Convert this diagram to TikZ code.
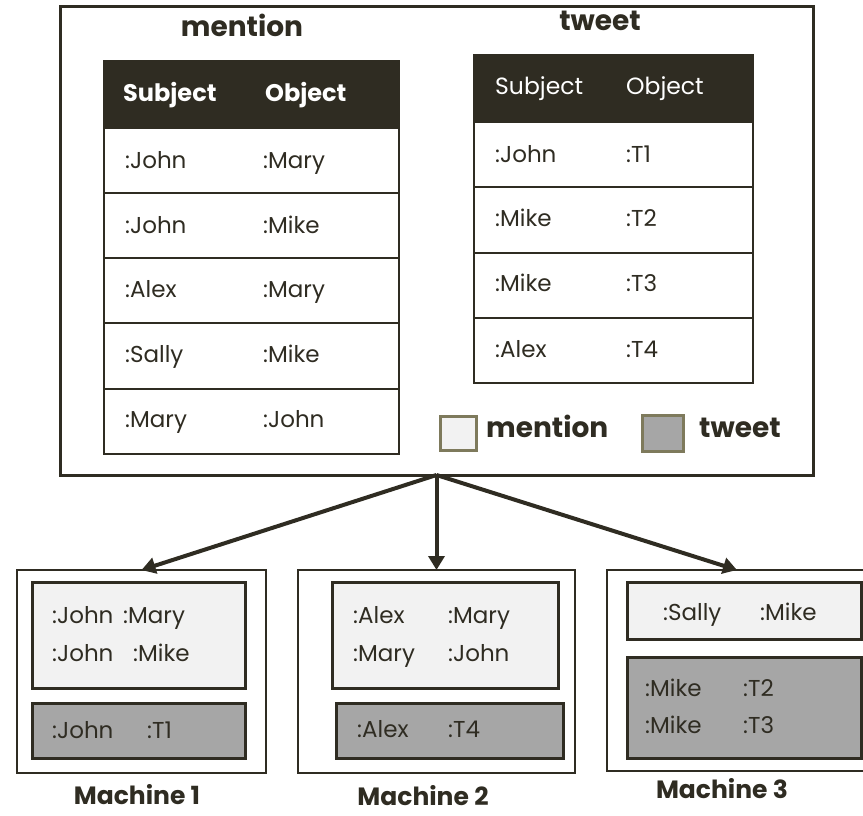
\documentclass[tikz,border=0pt]{standalone}
\usepackage{fontspec}
\setmainfont{Poppins}
\usetikzlibrary{arrows.meta}
\definecolor{ink}{HTML}{2F2C22}
\definecolor{olive}{HTML}{7E7A5C}
\definecolor{lightcell}{HTML}{F2F2F2}
\definecolor{darkcell}{HTML}{A6A6A6}
% rectangle node from two corners: name, style, x1, y1, x2, y2
\newcommand\boxnode[6]{%
  \node[#2, minimum width={#5pt-#3pt}, minimum height={#6pt-#4pt}] (#1) at ({(#3+#5)/2},{(#4+#6)/2}) {};}
\begin{document}
\begin{tikzpicture}[x=1pt, y=-1pt,
  box/.style={rectangle, draw=ink, inner sep=0pt, outer sep=0pt},
  frame/.style={box, line width=3pt, fill=white},
  machine/.style={box, line width=2.5pt, fill=white},
  cell/.style={box, line width=2pt, fill=white},
  headcell/.style={box, line width=2pt, fill=ink},
  part/.style={box, line width=3pt, fill=lightcell},
  tpart/.style={box, line width=3pt, fill=darkcell},
  legm/.style={rectangle, draw=olive, line width=3pt, fill=lightcell, inner sep=0pt},
  legt/.style={rectangle, draw=olive, line width=3pt, fill=darkcell, inner sep=0pt},
  txt/.style={anchor=base west, inner sep=0pt, text=ink, font=\fontsize{23}{27}\selectfont},
  headtxt/.style={anchor=base west, inner sep=0pt, text=white, font=\fontsize{23.5}{27}\selectfont},
  boldhead/.style={headtxt, font=\fontsize{24}{28}\selectfont\bfseries},
  title/.style={anchor=base, inner sep=0pt, text=ink, font=\fontsize{28}{32}\selectfont\bfseries},
  legtxt/.style={anchor=base west, inner sep=0pt, text=ink, font=\fontsize{28}{32}\selectfont\bfseries},
  mlabel/.style={anchor=base, inner sep=0pt, text=ink, font=\fontsize{25}{29}\selectfont\bfseries},
  flow/.style={draw=ink, line width=4pt, -{Triangle[length=14pt,width=16pt]}}
]
\useasboundingbox (0,0) rectangle (863,815);

% outer frame holding both tables
\boxnode{store}{frame}{60}{6}{813}{475}

% mention table
\node[title] (mtitle) at (242,36) {mention};
\boxnode{mh}{headcell}{104}{61}{399}{128}
\boxnode{mr1}{cell}{104}{128}{399}{193}
\boxnode{mr2}{cell}{104}{193}{399}{258}
\boxnode{mr3}{cell}{104}{258}{399}{323}
\boxnode{mr4}{cell}{104}{323}{399}{389}
\boxnode{mr5}{cell}{104}{389}{399}{454}
\node[boldhead] (mhs) at (123,101) {Subject};
\node[boldhead] (mho) at (265,101) {Object};
\node[txt] (ms1) at (125,168) {:John};  \node[txt] (mo1) at (263,168) {:Mary};
\node[txt] (ms2) at (125,233) {:John};  \node[txt] (mo2) at (263,233) {:Mike};
\node[txt] (ms3) at (125,297) {:Alex};  \node[txt] (mo3) at (263,297) {:Mary};
\node[txt] (ms4) at (125,362) {:Sally}; \node[txt] (mo4) at (263,362) {:Mike};
\node[txt] (ms5) at (125,427) {:Mary};  \node[txt] (mo5) at (263,427) {:John};

% tweet table
\node[title] (ttitle) at (600,30) {tweet};
\boxnode{th}{headcell}{474}{55}{753}{122}
\boxnode{tr1}{cell}{474}{122}{753}{187}
\boxnode{tr2}{cell}{474}{187}{753}{253}
\boxnode{tr3}{cell}{474}{253}{753}{318}
\boxnode{tr4}{cell}{474}{318}{753}{383}
\node[headtxt] (ths) at (495,94) {Subject};
\node[headtxt] (tho) at (626,94) {Object};
\node[txt] (ts1) at (495,162) {:John}; \node[txt] (to1) at (626,162) {:T1};
\node[txt] (ts2) at (495,226) {:Mike}; \node[txt] (to2) at (626,226) {:T2};
\node[txt] (ts3) at (495,291) {:Mike}; \node[txt] (to3) at (626,291) {:T3};
\node[txt] (ts4) at (495,357) {:Alex}; \node[txt] (to4) at (626,357) {:T4};

% legend
\boxnode{lm}{legm}{440}{416}{476}{450}
\node[legtxt] (lmt) at (486,437) {mention};
\boxnode{lt}{legt}{642}{415}{683}{451}
\node[legtxt] (ltt) at (699,437) {tweet};

% machines
\boxnode{mach1}{machine}{17}{570}{266}{773}
\boxnode{mach2}{machine}{298}{570}{575}{773}
\boxnode{mach3}{machine}{607}{570}{867}{771}

% machine 1
\boxnode{p1m}{part}{32}{582}{245}{688}
\boxnode{p1t}{tpart}{32}{703}{245}{758}
\node[txt] (a1) at (52,623) {:John};  \node[txt] (b1) at (123,623) {:Mary};
\node[txt] (a2) at (52,661) {:John};  \node[txt] (b2) at (133,661) {:Mike};
\node[txt] (a3) at (52,738) {:John};  \node[txt] (b3) at (147,738) {:T1};
\node[mlabel] (l1) at (137,804) {Machine 1};

% machine 2
\boxnode{p2m}{part}{332}{582}{558}{688}
\boxnode{p2t}{tpart}{336}{703}{563}{758}
\node[txt] (c1) at (353,623) {:Alex};  \node[txt] (d1) at (448,623) {:Mary};
\node[txt] (c2) at (353,661) {:Mary};  \node[txt] (d2) at (448,661) {:John};
\node[txt] (c3) at (357,737) {:Alex};  \node[txt] (d3) at (448,737) {:T4};
\node[mlabel] (l2) at (423,805) {Machine 2};

% machine 3
\boxnode{p3m}{part}{627}{582}{861}{639}
\boxnode{p3t}{tpart}{627}{657}{861}{758}
\node[txt] (e1) at (663,620) {:Sally}; \node[txt] (f1) at (760,620) {:Mike};
\node[txt] (e2) at (645,696) {:Mike};  \node[txt] (f2) at (743,696) {:T2};
\node[txt] (e3) at (645,733) {:Mike};  \node[txt] (f3) at (743,733) {:T3};
\node[mlabel] (l3) at (722,798) {Machine 3};

% distribution arrows
\draw[flow] (store.south) -- (mach1.north);
\draw[flow] (store.south) -- (mach2.north);
\draw[flow] (store.south) -- (mach3.north);
\end{tikzpicture}
\end{document}
